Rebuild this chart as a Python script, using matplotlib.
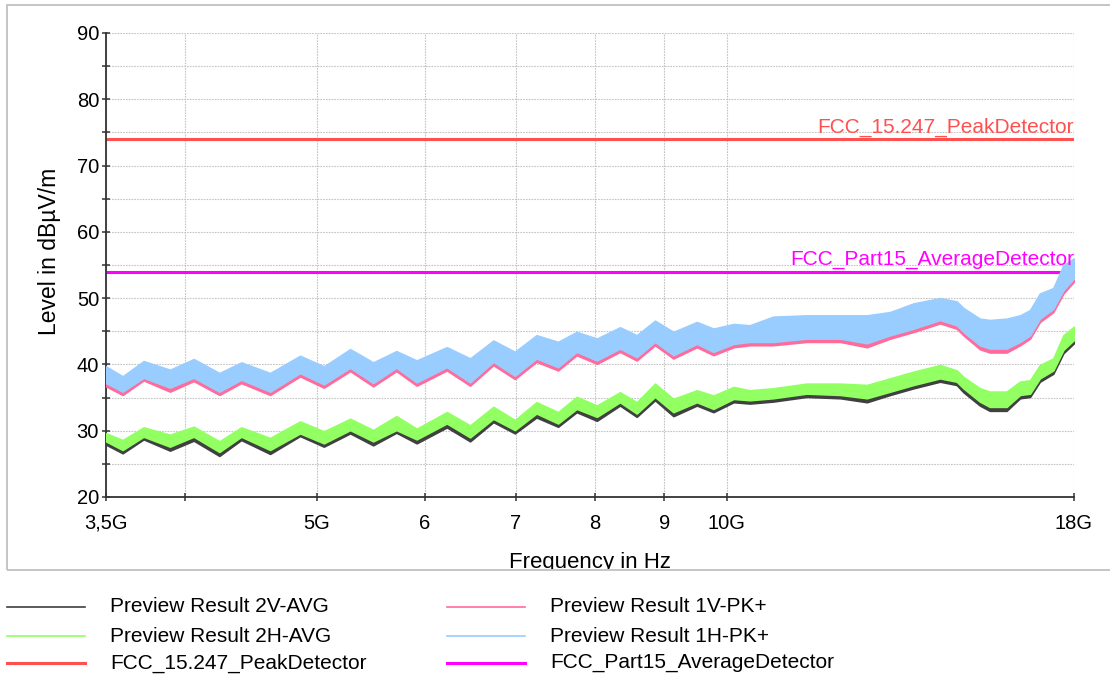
import matplotlib.pyplot as plt
from matplotlib.lines import Line2D
from matplotlib.patches import Rectangle
from matplotlib.transforms import Bbox, TransformedBbox

plt.rcParams["font.family"] = ["Liberation Sans", "DejaVu Sans"]

# frequency points (GHz) where the trace envelopes were taken
freq_ghz = [3.50, 3.60, 3.73, 3.90, 4.06, 4.24, 4.40, 4.62, 4.86, 5.06,
            5.29, 5.50, 5.72, 5.92, 6.23, 6.48, 6.74, 6.99, 7.25, 7.52,
            7.76, 8.03, 8.35, 8.59, 8.86, 9.14, 9.51, 9.78, 10.12, 10.40,
            10.82, 11.45, 12.12, 12.68, 13.19, 13.72, 14.35, 14.76, 14.93, 15.35,
            15.61, 16.06, 16.43, 16.71, 16.99, 17.38, 17.68, 18.00]

# Preview Result 2V-AVG (min / max of the trace)
v_avg_lo = [27.9, 26.6, 28.7, 27.0, 28.5, 26.2, 28.6, 26.5, 29.2, 27.6,
            29.6, 27.8, 29.7, 28.1, 30.5, 28.4, 31.3, 29.6, 32.0, 30.6,
            32.8, 31.5, 33.8, 32.1, 34.6, 32.2, 33.8, 32.8, 34.3, 34.1,
            34.4, 35.1, 34.9, 34.3, 35.4, 36.4, 37.4, 36.9, 35.8, 33.8,
            33.0, 33.0, 34.9, 35.1, 37.4, 38.6, 41.7, 43.2]
v_avg_hi = [29.2, 28.2, 30.2, 28.9, 30.3, 27.9, 30.1, 28.4, 31.1, 29.4,
            31.4, 29.6, 31.8, 29.9, 32.4, 30.3, 33.2, 31.1, 33.9, 32.4,
            34.7, 33.3, 35.5, 33.8, 36.6, 34.3, 35.7, 34.8, 36.2, 35.6,
            36.0, 36.7, 36.6, 36.4, 37.5, 38.5, 39.5, 38.7, 37.6, 35.9,
            35.4, 35.4, 37.0, 37.2, 39.5, 40.5, 43.9, 45.3]

# Preview Result 2H-AVG
h_avg_lo = [28.4, 27.1, 29.1, 27.6, 29.1, 26.8, 29.1, 27.1, 29.6, 28.1,
            30.1, 28.4, 30.1, 28.7, 31.1, 29.0, 31.8, 30.1, 32.6, 31.1,
            33.3, 32.1, 34.3, 32.6, 35.1, 32.8, 34.3, 33.3, 34.8, 34.6,
            34.9, 35.6, 35.4, 34.9, 35.9, 36.9, 37.9, 37.4, 36.4, 34.4,
            33.6, 33.6, 35.4, 35.6, 37.9, 39.1, 42.2, 43.7]
h_avg_hi = [29.6, 28.6, 30.5, 29.4, 30.6, 28.4, 30.5, 28.9, 31.4, 29.9,
            31.8, 30.1, 32.2, 30.3, 32.8, 30.8, 33.6, 31.6, 34.3, 32.8,
            35.1, 33.8, 35.8, 34.3, 37.1, 34.8, 36.1, 35.3, 36.6, 36.1,
            36.4, 37.1, 37.1, 36.9, 37.9, 38.9, 39.9, 39.1, 38.1, 36.4,
            35.9, 35.9, 37.4, 37.6, 39.9, 40.9, 44.4, 45.7]

# Preview Result 1V-PK+
v_pk_lo = [36.7, 35.4, 37.6, 35.9, 37.5, 35.4, 37.2, 35.4, 38.2, 36.5,
           39.0, 36.7, 39.0, 36.8, 39.1, 36.8, 39.9, 37.8, 40.4, 39.1,
           41.4, 40.1, 41.9, 40.6, 42.9, 40.9, 42.6, 41.4, 42.6, 42.9,
           42.9, 43.4, 43.4, 42.6, 43.9, 44.9, 46.2, 45.4, 44.4, 42.3,
           41.8, 41.8, 42.9, 43.9, 46.4, 47.9, 50.7, 52.5]
v_pk_hi = [39.3, 37.8, 40.1, 38.8, 40.4, 38.3, 39.9, 38.3, 40.9, 39.3,
           41.9, 39.9, 41.6, 40.2, 42.2, 40.5, 43.2, 41.5, 44.0, 43.0,
           44.5, 43.5, 45.2, 44.0, 46.2, 44.5, 46.0, 45.0, 45.7, 45.5,
           46.8, 47.0, 47.0, 47.0, 47.5, 48.8, 49.6, 49.1, 48.1, 46.5,
           46.3, 46.5, 47.0, 47.8, 50.3, 51.1, 54.6, 55.6]

# Preview Result 1H-PK+
h_pk_lo = [37.2, 35.9, 38.0, 36.5, 38.0, 35.9, 37.7, 35.9, 38.7, 37.0,
           39.5, 37.2, 39.5, 37.3, 39.6, 37.3, 40.4, 38.3, 40.9, 39.6,
           41.9, 40.6, 42.4, 41.1, 43.4, 41.4, 43.1, 41.9, 43.1, 43.4,
           43.4, 43.9, 43.9, 43.2, 44.4, 45.4, 46.7, 45.9, 44.9, 42.9,
           42.4, 42.4, 43.4, 44.4, 46.9, 48.4, 51.2, 53.0]
h_pk_hi = [39.7, 38.2, 40.5, 39.2, 40.8, 38.7, 40.3, 38.7, 41.3, 39.7,
           42.3, 40.3, 42.0, 40.6, 42.6, 40.9, 43.6, 41.9, 44.4, 43.4,
           44.9, 43.9, 45.6, 44.4, 46.6, 44.9, 46.4, 45.4, 46.1, 45.9,
           47.2, 47.4, 47.4, 47.4, 47.9, 49.2, 50.0, 49.5, 48.5, 46.9,
           46.7, 46.9, 47.4, 48.2, 50.7, 51.5, 55.0, 56.0]

# limit lines (dBµV/m)
peak_limit = 74
avg_limit = 54

x_ticks = [3.5, 4, 5, 6, 7, 8, 9, 10, 18]
x_tick_labels = ["3,5G", "", "5G", "6", "7", "8", "9", "10G", "18G"]
y_major = [20, 30, 40, 50, 60, 70, 80, 90]
y_minor = [25, 35, 45, 55, 65, 75, 85]

C_V_AVG = "#404040"
C_H_AVG = "#92ff62"
C_V_PK = "#ff6b9a"
C_H_PK = "#99ccff"
C_PEAK = "#ff5050"
C_AVG = "#ff00ff"

W, H = 1110, 680
fig = plt.figure(figsize=(W / 100, H / 100), dpi=100)
ax = fig.add_axes([106 / W, 1 - 497 / H, (1074 - 106) / W, (497 - 33) / H])

# traces: vertical polarisation underneath, horizontal on top
for lo, hi, col in [(v_avg_lo, v_avg_hi, C_V_AVG), (h_avg_lo, h_avg_hi, C_H_AVG),
                    (v_pk_lo, v_pk_hi, C_V_PK), (h_pk_lo, h_pk_hi, C_H_PK)]:
    ax.fill_between(freq_ghz, lo, hi, color=col, lw=1.2, zorder=3)

ax.axhline(peak_limit, color=C_PEAK, lw=2.2, zorder=2)
ax.axhline(avg_limit, color=C_AVG, lw=2.2, zorder=2)
ax.text(18, peak_limit + 1.0, "FCC_15.247_PeakDetector", color=C_PEAK,
        fontsize=15, ha="right", va="baseline", zorder=5)
ax.text(18, avg_limit + 1.0, "FCC_Part15_AverageDetector", color=C_AVG,
        fontsize=15, ha="right", va="baseline", zorder=5)

ax.set_xscale("log")
ax.set_xlim(3.5, 18)
ax.set_ylim(20, 90)
ax.set_xticks(x_ticks, labels=x_tick_labels)
ax.xaxis.set_minor_locator(plt.NullLocator())
ax.set_yticks(y_major)
ax.set_yticks(y_minor, minor=True)

ax.grid(True, which="both", color="#c4c4c4", lw=0.8, ls=(0, (1.5, 1)), zorder=0)
ax.set_axisbelow(True)
for s in ["top", "right"]:
    ax.spines[s].set_visible(False)
for s in ["left", "bottom"]:
    ax.spines[s].set_color("#333333")
    ax.spines[s].set_linewidth(1.3)
ax.tick_params(which="both", direction="inout", length=6, width=1.1,
               color="#333333", labelsize=14.5)
ax.tick_params(axis="y", pad=2)
ax.tick_params(axis="x", pad=9)

fig.text(50 / W, 1 - 251 / H, "Level in dBµV/m", rotation=90,
         ha="center", va="center", fontsize=16.5)
xl = fig.text(590 / W, 1 - 552 / H, "Frequency in Hz", ha="center", va="top",
              fontsize=16)
xl.set_clip_box(TransformedBbox(Bbox([[0, 1 - 569 / H], [1, 1]]), fig.transFigure))
xl.set_clip_on(True)

# frame around the plot area, open past the right edge
fig.patches.append(Rectangle((7 / W, 1 - 570 / H), 1.1, 565 / H,
                             fill=False, edgecolor="#c0c0c0", lw=1.3,
                             transform=fig.transFigure))

# legend, two columns below the frame
entries = [
    ("Preview Result 2V-AVG", C_V_AVG, 1.2, 0, 607),
    ("Preview Result 2H-AVG", C_H_AVG, 1.2, 0, 636),
    ("FCC_15.247_PeakDetector", C_PEAK, 2.2, 0, 663),
    ("Preview Result 1V-PK+", C_V_PK, 1.2, 1, 607),
    ("Preview Result 1H-PK+", C_H_PK, 1.2, 1, 636),
    ("FCC_Part15_AverageDetector", C_AVG, 2.2, 1, 663),
]
for label, col, lw, column, ypx in entries:
    x0 = 7 if column == 0 else 447
    y = 1 - ypx / H
    fig.add_artist(Line2D([x0 / W, (x0 + 78) / W], [y, y], color=col, lw=lw,
                          transform=fig.transFigure))
    fig.text((x0 + 103) / W, y, label, ha="left", va="center", fontsize=15)

fig.savefig("out.png", dpi=100)
